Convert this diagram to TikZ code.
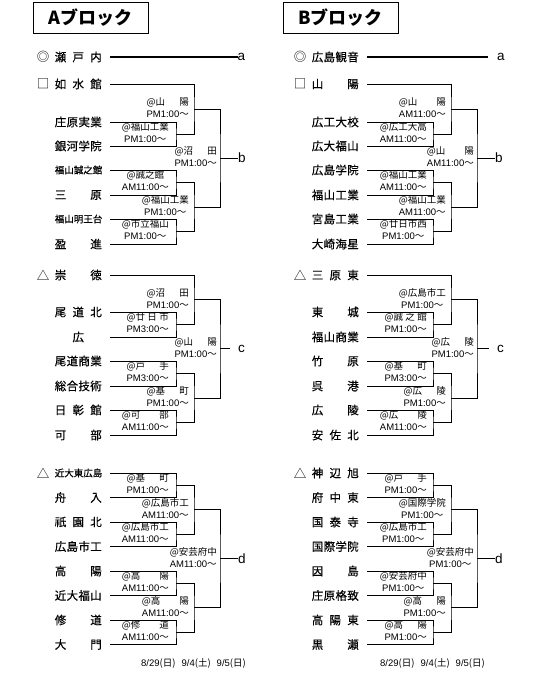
\documentclass[tikz,border=0pt]{standalone}
\usepackage{fontspec}
\setmainfont{Noto Sans CJK JP}
\newfontfamily\lat{Liberation Sans}
\newfontfamily\nmf[FakeBold=0.4]{Noto Sans CJK JP}
\usetikzlibrary{calc}
\def\spr#1{\sprA#1\relax}
\def\sprA#1#2{#1\ifx\relax#2\else\hfill\expandafter\sprA\expandafter#2\fi}
\newcommand\tnm[1]{\makebox[47pt][s]{\spr{#1}}}
\newcommand\tnc[1]{\makebox[47pt][c]{#1}}
\newcommand\tns[1]{\makebox[47pt][s]{\fontsize{9.5}{11}\selectfont\spr{#1}}}
\newcommand\lab[2]{\setbox0\hbox{{\lat #2}〜}\setbox2\hbox{@#1}%
  \ifdim\wd2<\wd0 \setbox2\hbox to\wd0{@\spr{#1}}\fi
  \begin{tabular}{@{}c@{}}\box2\\\box0\end{tabular}}
\newcommand\labn[2]{\begin{tabular}{@{}c@{}}@#1\\{\lat #2}〜\end{tabular}}
\newcommand\team[3]{\node[nm] (#1) at (102,#2) {#3};
  \coordinate (#1s) at ([xshift=8pt]#1.east);}
\newcommand\match[6]{\coordinate (#4t) at ($(#1)!.5!(#2)$);
  \coordinate (#4) at (#3,0 |- #4t);
  \draw[br] (#1) -| (#4) |- (#2);
  \node[lab] (#4L) at ([xshift=-#5pt]#4) {#6};}
\newcommand\dates{{\lat 8/29}(日)\hspace{6pt}{\lat 9/4}(土)\hspace{6pt}{\lat 9/5}(日)}
\tikzset{
 nm/.style={anchor=east, inner sep=0pt, font=\nmf\fontsize{11.5}{13}\selectfont},
 mk/.style={inner sep=0pt, font=\fontsize{12.5}{13}\selectfont},
 lab/.style={anchor=east, inner sep=0pt, font=\fontsize{9.5}{12}\selectfont},
 br/.style={line width=0.9pt},
 thk/.style={line width=2.6pt},
 ltr/.style={anchor=west, inner sep=0pt, font=\lat\fontsize{13.5}{14}\selectfont},
 ttl/.style={draw, line width=0.9pt, minimum width=115pt, minimum height=31pt, inner sep=0pt, font=\bfseries\fontsize{18}{20}\selectfont},
 dt/.style={anchor=west, inner sep=0pt, font=\fontsize{9.5}{11}\selectfont}
}
\begin{document}
\begin{tikzpicture}[x=1pt,y=-1pt]
\useasboundingbox (0,0) rectangle (540,675);
\fill[white] (0,0) rectangle (540,675);
% ---------- titles
\node[ttl] (At) at (90.5,18) {Aブロック};
\node[ttl] (Bt) at (340.5,18) {Bブロック};
% ================= A block
\node[mk] (Amk1) at (43,57) {◎};
\team{Aa}{57}{\tnm{瀬戸内}}
\node[ltr] (Aal) at (237.5,57) {a};
\draw[thk] (Aas) -- (Aal.west);
\node[mk] (Amk2) at (43,84) {□};
\team{Ab1}{84}{\tnm{如水館}}
\team{Ab2}{122}{\tnm{庄原実業}}
\team{Ab3}{146}{\tnm{銀河学院}}
\team{Ab4}{170}{\tns{福山誠之館}}
\team{Ab5}{195}{\tnm{三原}}
\team{Ab6}{219}{\tns{福山明王台}}
\team{Ab7}{244}{\tnm{盈進}}
\match{Ab2s}{Ab3s}{176}{Am1}{7}{\lab{福山工業}{PM1:00}}
\match{Ab4s}{Ab5s}{176}{Am2}{7}{\labn{誠之館}{AM11:00}}
\match{Ab6s}{Ab7s}{176}{Am3}{7}{\lab{市立福山}{PM1:00}}
\match{Ab1s}{Am1}{194}{Am4}{5}{\lab{山陽}{PM1:00}}
\match{Am2}{Am3}{194}{Am5}{5}{\lab{福山工業}{PM1:00}}
\match{Am4}{Am5}{220}{Am6}{3}{\lab{沼田}{PM1:00}}
\node[ltr] (Abl) at ([xshift=18pt]Am6) {b};
\draw[br] (Am6) -- (Abl.west);
% c
\node[mk] (Amk3) at (43,275) {△};
\team{Ac1}{275}{\tnm{崇徳}}
\team{Ac2}{312}{\tnm{尾道北}}
\team{Ac3}{337}{\tnc{広}}
\team{Ac4}{361}{\tnm{尾道商業}}
\team{Ac5}{386}{\tnm{総合技術}}
\team{Ac6}{410}{\tnm{日彰館}}
\team{Ac7}{435}{\tnm{可部}}
\match{Ac2s}{Ac3s}{176}{Acm1}{7}{\lab{廿日市}{PM3:00}}
\match{Ac4s}{Ac5s}{176}{Acm2}{7}{\lab{戸手}{PM3:00}}
\match{Ac6s}{Ac7s}{176}{Acm3}{7}{\lab{可部}{AM11:00}}
\match{Ac1s}{Acm1}{194}{Acm4}{5}{\lab{沼田}{PM1:00}}
\match{Acm2}{Acm3}{194}{Acm5}{5}{\lab{基町}{PM1:00}}
\match{Acm4}{Acm5}{220}{Acm6}{3}{\lab{山陽}{PM1:00}}
\node[ltr] (Acl) at ([xshift=18pt]Acm6) {c};
\draw[br] (Acm6) -- ([xshift=-8pt]Acl.west);
% d
\node[mk] (Amk4) at (43,473) {△};
\team{Ad1}{473}{\tns{近大東広島}}
\team{Ad2}{497.5}{\tnm{舟入}}
\team{Ad3}{522}{\tnm{祇園北}}
\team{Ad4}{546.5}{\tnm{広島市工}}
\team{Ad5}{571}{\tnm{高陽}}
\team{Ad6}{595.5}{\tnm{近大福山}}
\team{Ad7}{620}{\tnm{修道}}
\team{Ad8}{644.5}{\tnm{大門}}
\match{Ad1s}{Ad2s}{176}{Adm1}{7}{\lab{基町}{PM1:00}}
\match{Ad3s}{Ad4s}{176}{Adm2}{7}{\lab{広島市工}{AM11:00}}
\match{Ad5s}{Ad6s}{176}{Adm3}{7}{\lab{高陽}{AM11:00}}
\match{Ad7s}{Ad8s}{176}{Adm4}{7}{\lab{修道}{AM11:00}}
\match{Adm1}{Adm2}{194}{Adm5}{5}{\lab{広島市工}{AM11:00}}
\match{Adm3}{Adm4}{194}{Adm6}{5}{\lab{高陽}{AM11:00}}
\match{Adm5}{Adm6}{220}{Adm7}{3}{\lab{安芸府中}{AM11:00}}
\node[ltr] (Adl) at ([xshift=18pt]Adm7) {d};
\draw[br] (Adm7) -- (Adl.west);
\node[dt] (Adt) at (141,663) {\dates};
% ================= B block
\begin{scope}[xshift=257pt]
\node[mk] (Bmk1) at (43,57) {◎};
\team{Ba}{57}{\tnm{広島観音}}
\node[ltr] (Bal) at (240,57) {a};
\draw[thk] (Bas) -- ([xshift=-9pt]Bal.west);
\node[mk] (Bmk2) at (43,84) {□};
\team{Bb1}{84}{\tnm{山陽}}
\team{Bb2}{122}{\tnm{広工大校}}
\team{Bb3}{146}{\tnm{広大福山}}
\team{Bb4}{170}{\tnm{広島学院}}
\team{Bb5}{195}{\tnm{福山工業}}
\team{Bb6}{219}{\tnm{宮島工業}}
\team{Bb7}{244}{\tnm{大崎海星}}
\match{Bb2s}{Bb3s}{176}{Bm1}{6}{\lab{広工大高}{AM11:00}}
\match{Bb4s}{Bb5s}{176}{Bm2}{6}{\lab{福山工業}{AM11:00}}
\match{Bb6s}{Bb7s}{176}{Bm3}{6}{\lab{廿日市西}{PM1:00}}
\match{Bb1s}{Bm1}{194}{Bm4}{5}{\lab{山陽}{AM11:00}}
\match{Bm2}{Bm3}{194}{Bm5}{5}{\lab{福山工業}{AM11:00}}
\match{Bm4}{Bm5}{220}{Bm6}{3}{\lab{山陽}{AM11:00}}
\node[ltr] (Bbl) at ([xshift=18pt]Bm6) {b};
\draw[br] (Bm6) -- (Bbl.west);
% c
\node[mk] (Bmk3) at (43,275) {△};
\team{Bc1}{275}{\tnm{三原東}}
\team{Bc2}{312}{\tnm{東城}}
\team{Bc3}{337}{\tnm{福山商業}}
\team{Bc4}{361}{\tnm{竹原}}
\team{Bc5}{386}{\tnm{呉港}}
\team{Bc6}{410}{\tnm{広陵}}
\team{Bc7}{435}{\tnm{安佐北}}
\match{Bc2s}{Bc3s}{176}{Bcm1}{6}{\lab{誠之館}{PM1:00}}
\match{Bc4s}{Bc5s}{176}{Bcm2}{6}{\lab{基町}{PM3:00}}
\match{Bc6s}{Bc7s}{176}{Bcm3}{6}{\lab{広陵}{AM11:00}}
\match{Bc1s}{Bcm1}{194}{Bcm4}{5}{\lab{広島市工}{PM1:00}}
\match{Bcm2}{Bcm3}{194}{Bcm5}{5}{\lab{広陵}{PM1:00}}
\match{Bcm4}{Bcm5}{220}{Bcm6}{3}{\lab{広陵}{PM1:00}}
\node[ltr] (Bcl) at ([xshift=20pt]Bcm6) {c};
\draw[br] (Bcm6) -- ([xshift=-8pt]Bcl.west);
% d
\node[mk] (Bmk4) at (43,473) {△};
\team{Bd1}{473}{\tnm{神辺旭}}
\team{Bd2}{497.5}{\tnm{府中東}}
\team{Bd3}{522}{\tnm{国泰寺}}
\team{Bd4}{546.5}{\tnm{国際学院}}
\team{Bd5}{571}{\tnm{因島}}
\team{Bd6}{595.5}{\tnm{庄原格致}}
\team{Bd7}{620}{\tnm{高陽東}}
\team{Bd8}{644.5}{\tnm{黒瀬}}
\match{Bd1s}{Bd2s}{176}{Bdm1}{6}{\lab{戸手}{PM1:00}}
\match{Bd3s}{Bd4s}{176}{Bdm2}{6}{\lab{広島市工}{PM1:00}}
\match{Bd5s}{Bd6s}{176}{Bdm3}{6}{\lab{安芸府中}{PM1:00}}
\match{Bd7s}{Bd8s}{176}{Bdm4}{6}{\lab{高陽}{PM1:00}}
\match{Bdm1}{Bdm2}{194}{Bdm5}{5}{\lab{国際学院}{PM1:00}}
\match{Bdm3}{Bdm4}{194}{Bdm6}{5}{\lab{高陽}{PM1:00}}
\match{Bdm5}{Bdm6}{220}{Bdm7}{3}{\lab{安芸府中}{PM1:00}}
\node[ltr] (Bdl) at ([xshift=18pt]Bdm7) {d};
\draw[br] (Bdm7) -- (Bdl.west);
\node[dt] (Bdt) at (123,663) {\dates};
\end{scope}
\end{tikzpicture}
\end{document}
